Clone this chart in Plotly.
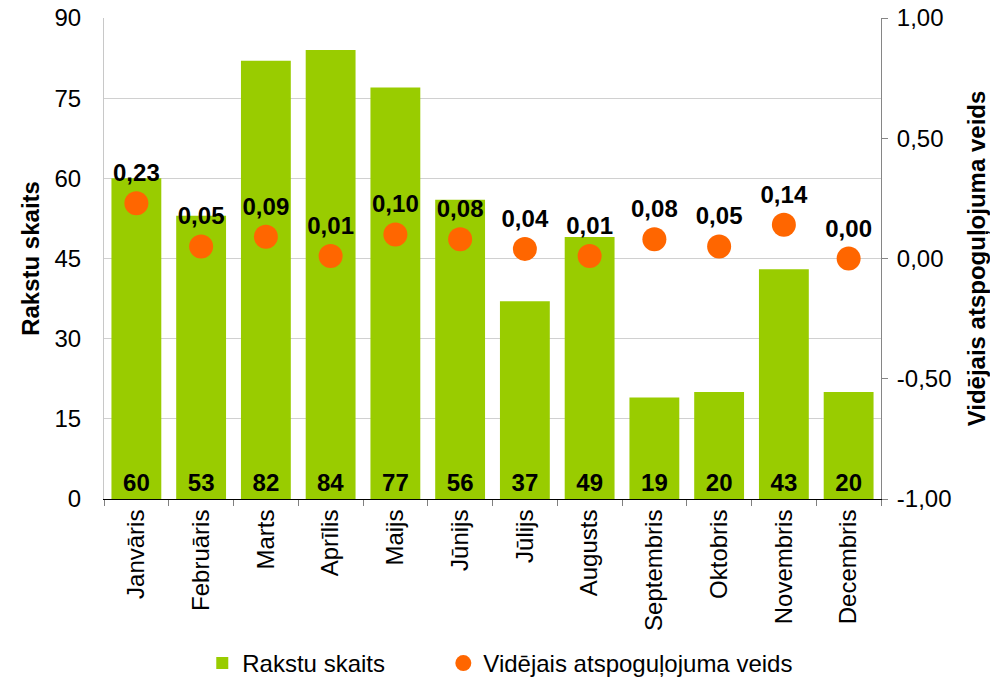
import plotly.graph_objects as go

months = ["Janvāris", "Februāris", "Marts", "Aprīlis", "Maijs", "Jūnijs",
          "Jūlijs", "Augusts", "Septembris", "Oktobris", "Novembris", "Decembris"]
article_counts = [60, 53, 82, 84, 77, 56, 37, 49, 19, 20, 43, 20]
avg_coverage = [0.23, 0.05, 0.09, 0.01, 0.10, 0.08, 0.04, 0.01, 0.08, 0.05, 0.14, 0.00]
y2_tickvals = [-1.0, -0.5, 0.0, 0.5, 1.0]
y2_ticktext = ["-1,00", "-0,50", "0,00", "0,50", "1,00"]

FONT = "Liberation Sans, Arial, sans-serif"
PAD = "\u00a0" * 8

fig = go.Figure()
fig.add_trace(go.Bar(
    x=months, y=article_counts, name="Rakstu skaits" + PAD,
    marker=dict(color="#99CC00", line=dict(width=0)),
    width=0.77,
    text=[str(v) for v in article_counts],
    textposition="inside", insidetextanchor="start",
    textangle=0,
    insidetextfont=dict(family=FONT, size=24, color="black", weight="bold"),
    cliponaxis=False,
))
fig.add_trace(go.Scatter(
    x=months, y=avg_coverage, name="Vidējais atspoguļojuma veids",
    yaxis="y2", mode="markers+text",
    marker=dict(color="#FF6600", size=24, line=dict(width=0)),
    texttemplate="%{y:.2f}", textposition="top center",
    textfont=dict(family=FONT, size=24, color="black", weight="bold"),
    cliponaxis=False,
))

fig.update_layout(
    width=990, height=681,
    margin=dict(l=104, r=109, t=18, b=182, autoexpand=False),
    paper_bgcolor="white", plot_bgcolor="white",
    separators=", ",
    font=dict(family=FONT, size=24, color="black"),
    bargap=0.23,
    showlegend=True,
    legend=dict(orientation="h", x=0.51, xanchor="center", y=-0.342, yanchor="middle",
                font=dict(size=24), itemwidth=30, tracegroupgap=0),
    xaxis=dict(
        range=[-0.5, len(months) - 0.5],
        tickangle=-90, showline=True, linecolor="#000000", linewidth=1,
        ticks="outside", tickson="boundaries", ticklen=6, tickcolor="#808080",
        showgrid=False, tickfont=dict(size=24), automargin=False,
    ),
    yaxis=dict(
        range=[0, 90], dtick=15, tick0=0, showgrid=True, gridcolor="#D0D0D0",
        showline=True, linecolor="#C8C8C8", ticks="", zeroline=False,
        title=dict(text="<b>Rakstu skaits</b>", font=dict(size=24), standoff=8),
        tickfont=dict(size=24), automargin=False, ticklabelstandoff=17,
    ),
    yaxis2=dict(
        range=[-1, 1], tickvals=y2_tickvals, ticktext=y2_ticktext,
        overlaying="y", side="right",
        showgrid=False, zeroline=False,
        showline=True, linecolor="#868686", ticks="outside", ticklen=6, tickcolor="#868686",
        title=dict(text="<b>Vidējais atspoguļojuma veids</b>", font=dict(size=24), standoff=27),
        tickfont=dict(size=24), automargin=False, ticklabelstandoff=4,
    ),
)

fig.write_html("out.html", post_script="document.body.style.margin='0';",
               config={"displayModeBar": False})
